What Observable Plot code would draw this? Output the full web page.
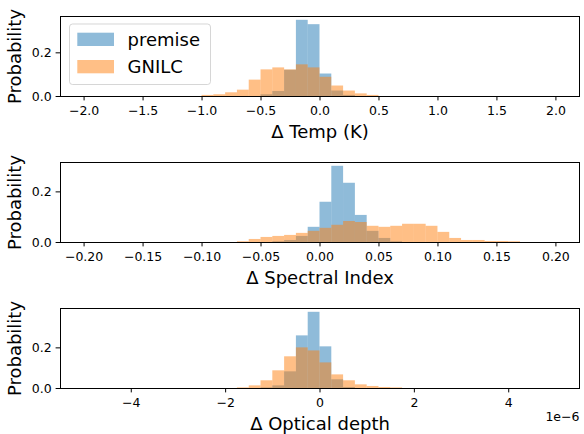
<!DOCTYPE html>
<html>
<head>
<meta charset="utf-8">
<script src="https://cdn.jsdelivr.net/npm/d3@7"></script>
<script src="https://cdn.jsdelivr.net/npm/@observablehq/plot@0.6"></script>
<style>
  html, body { margin: 0; padding: 0; background: white; }
  #chart { position: relative; width: 584px; height: 434px; overflow: hidden; font-family: "DejaVu Sans", sans-serif; }
  .panel { position: absolute; left: 0; }
</style>
</head>
<body>
<div id="chart"></div>
<script>
// ---- Data (probability per bin) ----
const seriesNames = ["premise", "GNILC"];

// Panel 1: Δ Temp (K), bins of 0.1, left edges
const tempBinWidth = 0.1;
const tempEdges   = [-1.0, -0.9, -0.8, -0.7, -0.6, -0.5, -0.4, -0.3, -0.2, -0.1, 0.0, 0.1, 0.2, 0.3, 0.4];
const tempPremise = [0, 0, 0, 0, 0, 0.008, 0.023, 0.120, 0.349, 0.329, 0.103, 0.025, 0.005, 0, 0];
const tempGnilc   = [0.005, 0.008, 0.017, 0.029, 0.075, 0.122, 0.131, 0.122, 0.145, 0.131, 0.088, 0.048, 0.025, 0.012, 0.005];
const tempTicks   = [-2.0, -1.5, -1.0, -0.5, 0.0, 0.5, 1.0, 1.5, 2.0];

// Panel 2: Δ Spectral Index, bins of 0.01, left edges
const specBinWidth = 0.01;
const specEdges   = [-0.07, -0.06, -0.05, -0.04, -0.03, -0.02, -0.01, 0.00, 0.01, 0.02, 0.03, 0.04, 0.05, 0.06, 0.07, 0.08, 0.09, 0.10, 0.11, 0.12, 0.13, 0.14, 0.15, 0.16];
const specPremise = [0, 0, 0, 0.003, 0.008, 0.024, 0.060, 0.159, 0.301, 0.234, 0.107, 0.044, 0.016, 0.003, 0, 0, 0, 0, 0, 0, 0, 0, 0, 0];
const specGnilc   = [0.003, 0.012, 0.020, 0.024, 0.028, 0.036, 0.044, 0.056, 0.068, 0.083, 0.079, 0.064, 0.060, 0.064, 0.072, 0.072, 0.064, 0.040, 0.016, 0.008, 0.008, 0.004, 0.004, 0.003];
const specTicks   = [-0.20, -0.15, -0.10, -0.05, 0.00, 0.05, 0.10, 0.15, 0.20];

// Panel 3: Δ Optical depth, in units of 1e-6, bins of 0.25e-6, left edges
const tauBinWidth = 0.25;
const tauEdges    = [-1.75, -1.5, -1.25, -1.0, -0.75, -0.5, -0.25, 0, 0.25, 0.5, 0.75, 1.0, 1.25, 1.5];
const tauPremise  = [0, 0, 0.003, 0.013, 0.082, 0.259, 0.375, 0.205, 0.043, 0.005, 0, 0, 0, 0];
const tauGnilc    = [0.003, 0.013, 0.038, 0.087, 0.156, 0.200, 0.185, 0.126, 0.067, 0.038, 0.018, 0.010, 0.005, 0.003];
const tauTicks    = [-4, -2, 0, 2, 4];

// ---- Drawing ----
const W = 584;
const BLUE = "#1f77b4", ORANGE = "#ff7f0e";

function bins(edges, w, vals) {
  return edges.map((e, i) => ({x1: e, x2: e + w, p: vals[i]})).filter(d => d.p > 0);
}

function panel({edges, w, premise, gnilc, xdom, ticks, fmt, label, height, mb, offsetText}) {
  const ymax = d3.max([...premise, ...gnilc]) * 1.05;
  const marks = [
    Plot.rectY(bins(edges, w, premise), {x1: "x1", x2: "x2", y: "p", fill: BLUE, fillOpacity: 0.5}),
    Plot.rectY(bins(edges, w, gnilc), {x1: "x1", x2: "x2", y: "p", fill: ORANGE, fillOpacity: 0.5}),
    Plot.axisX({ticks, tickFormat: fmt, tickSize: 4.4, tickPadding: 5, label: null, fontSize: 12.5}),
    Plot.axisY({ticks: [0, 0.2], tickFormat: d3.format(".1f"), tickSize: 4.4, tickPadding: 4.5, label: null, fontSize: 12.5}),
    Plot.frame({stroke: "black", strokeWidth: 1}),
    Plot.text([label], {frameAnchor: "bottom", textAnchor: "middle", dy: 41, lineAnchor: "bottom", fontSize: 18, fill: "black"}),
    Plot.text(["Probability"], {frameAnchor: "left", textAnchor: "middle", dx: -45, rotate: -90, fontSize: 18, fill: "black"})
  ];
  if (offsetText) {
    marks.push(Plot.text([offsetText], {frameAnchor: "bottom-right", textAnchor: "end", lineAnchor: "bottom", dy: 32, fontSize: 12.5, fill: "black"}));
  }
  return Plot.plot({
    width: W,
    height,
    marginLeft: 60,
    marginRight: 5,
    marginTop: 16,
    marginBottom: mb,
    x: {domain: xdom, label: null},
    y: {domain: [0, ymax], label: null},
    style: {fontFamily: "DejaVu Sans, sans-serif", fontSize: "12.5px", color: "black", background: "white", overflow: "visible"},
    marks
  });
}

const chart = document.getElementById("chart");
const specs = [
  {top: 0, edges: tempEdges, w: tempBinWidth, premise: tempPremise, gnilc: tempGnilc, xdom: [-2.2, 2.2], ticks: tempTicks, fmt: d3.format(".1f"), label: "Δ Temp (K)", height: 146, mb: 50},
  {top: 146, edges: specEdges, w: specBinWidth, premise: specPremise, gnilc: specGnilc, xdom: [-0.22, 0.22], ticks: specTicks, fmt: d3.format(".2f"), label: "Δ Spectral Index", height: 146, mb: 50},
  {top: 292, edges: tauEdges, w: tauBinWidth, premise: tauPremise, gnilc: tauGnilc, xdom: [-5.5, 5.5], ticks: tauTicks, fmt: d3.format("d"), label: "Δ Optical depth", height: 142, mb: 46, offsetText: "1e−6"}
];
const svgs = specs.map(s => {
  const div = document.createElement("div");
  div.className = "panel";
  div.style.top = s.top + "px";
  const p = panel(s);
  div.appendChild(p);
  chart.appendChild(div);
  return p;
});

// Legend inside the first panel (upper left)
const svg1 = d3.select(svgs[0]);
const lg = svg1.append("g").attr("text-anchor", "start");
lg.append("rect").attr("x", 69.5).attr("y", 24).attr("width", 141).attr("height", 60.5)
  .attr("rx", 3).attr("fill", "white").attr("fill-opacity", 0.8)
  .attr("stroke", "#cccccc").attr("stroke-opacity", 0.8).attr("stroke-width", 1);
[BLUE, ORANGE].forEach((c, i) => {
  lg.append("rect").attr("x", 77.3).attr("y", 32.7 + i * 27.3).attr("width", 36.7).attr("height", 13.3)
    .attr("fill", c).attr("fill-opacity", 0.5);
  lg.append("text").attr("x", 127.5).attr("y", 46 + i * 27.3)
    .attr("text-anchor", "start")
    .attr("font-family", "DejaVu Sans, sans-serif").attr("font-size", 18).attr("fill", "black")
    .text(seriesNames[i]);
});
</script>
</body>
</html>
